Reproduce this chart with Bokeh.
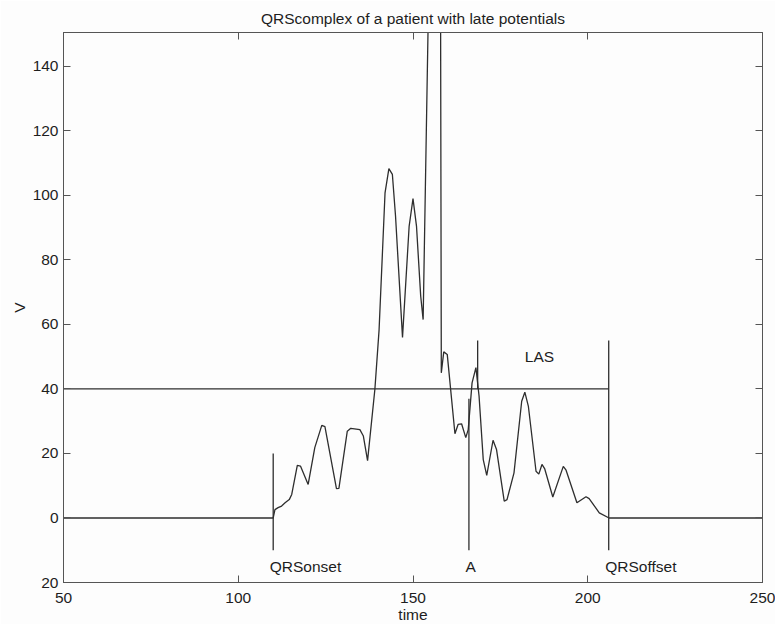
from bokeh.plotting import figure
from bokeh.models import Range1d, LinearAxis, FixedTicker, Label
from bokeh.embed import file_html
from bokeh.resources import INLINE

# ECG QRS complex signal (time, V)
time = [50, 110, 110.5, 111.4, 112.4, 113.4, 114.6, 115.3, 116.9, 117.8, 120.0,
        121.9, 123.9, 124.8, 128.1, 128.8, 131.2, 132.2, 134.8, 135.8, 137.0,
        139.1, 140.3, 142.0, 143.1, 144.1, 145.0, 147.0, 148.9, 150.0, 151.0,
        152.2, 152.9, 156.0, 157.7, 158.1, 158.8, 159.8, 162.0, 162.9, 163.9,
        165.1, 165.8, 166.9, 168.0, 168.9, 170.1, 171.1, 172.9, 173.9, 176.1,
        176.9, 178.9, 181.1, 182.0, 183.0, 185.2, 186.0, 186.9, 187.7, 190.0,
        193.0, 193.8, 196.9, 199.5, 200.4, 203.3, 206.1, 250]
volt = [0, 0, 2.6, 3.2, 3.7, 4.7, 5.7, 7.3, 16.3, 16.1, 10.4,
        21.8, 28.7, 28.3, 9.1, 9.2, 26.9, 27.8, 27.4, 25.4, 17.8,
        40.0, 58.4, 100.8, 108.3, 106.5, 93.6, 56.0, 90.5, 99.0, 90.5,
        68.8, 61.5, 260.0, 260.0, 45.0, 51.5, 50.7, 26.1, 29.0, 29.2,
        24.9, 27.4, 41.9, 46.6, 37.8, 18.1, 13.2, 24.1, 21.2, 5.2,
        5.7, 14.0, 36.2, 39.0, 34.7, 14.5, 13.6, 16.6, 15.2, 6.5,
        16.0, 14.8, 4.7, 6.6, 6.0, 1.6, 0.0, 0]

# markers
qrs_onset = 110
point_a = 166
las_start = 168.5
qrs_offset = 206
las_level = 40
marker_low = -10
onset_top = 20
a_top = 37
las_top = 55

x_ticks = [50, 100, 150, 200, 250]
y_ticks = [-20, 0, 20, 40, 60, 80, 100, 120, 140]

FONT = "Liberation Sans"
FS = "15.5px"
LINE = "#2e2e2e"
AX = "#555555"
TXT = "#1e1e1e"

p = figure(frame_width=699, frame_height=550,
           x_range=Range1d(50, 250), y_range=Range1d(-20, 150.5),
           output_backend="svg", toolbar_location=None,
           min_border_left=63, min_border_right=13,
           min_border_top=32, min_border_bottom=40,
           title="QRScomplex of a patient with late potentials",
           background_fill_color="#fdfdfd", border_fill_color="#fdfdfd")

p.xgrid.visible = False
p.ygrid.visible = False
p.outline_line_color = AX

p.title.align = "center"
p.title.text_font = FONT
p.title.text_font_size = FS
p.title.text_font_style = "normal"
p.title.text_color = TXT
p.title.standoff = 12

def style_axis(ax, ticks, labels=True):
    ax.ticker = FixedTicker(ticks=ticks)
    ax.major_tick_in = 7
    ax.major_tick_out = 0
    ax.minor_tick_in = 0
    ax.minor_tick_out = 0
    ax.axis_line_color = AX
    ax.major_tick_line_color = AX
    ax.major_label_text_font = FONT
    ax.major_label_text_font_size = FS
    ax.major_label_text_color = TXT
    ax.axis_label_text_font = FONT
    ax.axis_label_text_font_size = FS
    ax.axis_label_text_font_style = "normal"
    ax.axis_label_text_color = TXT
    if not labels:
        ax.major_label_text_font_size = "1px"
        ax.major_label_text_color = None
        ax.major_label_standoff = 0

style_axis(p.xaxis[0], x_ticks)
style_axis(p.yaxis[0], y_ticks)
p.xaxis.axis_label = "time"
p.yaxis.axis_label = "V"
p.xaxis.major_label_standoff = 10
p.xaxis.axis_label_standoff = 0
p.yaxis.major_label_standoff = 5
p.yaxis.axis_label_standoff = 2
p.yaxis.major_label_overrides = {-20: "20"}

top_ax = LinearAxis()
style_axis(top_ax, x_ticks, labels=False)
p.add_layout(top_ax, "above")
right_ax = LinearAxis()
style_axis(right_ax, y_ticks, labels=False)
p.add_layout(right_ax, "right")

# signal
p.line(time, volt, line_color=LINE, line_width=1.3)

# markers
p.line([50, qrs_offset], [las_level, las_level], line_color=LINE, line_width=1.3)
p.line([qrs_onset, qrs_onset], [marker_low, onset_top], line_color=LINE, line_width=1.3)
p.line([point_a, point_a], [marker_low, a_top], line_color=LINE, line_width=1.3)
p.line([las_start, las_start], [las_level, las_top], line_color=LINE, line_width=1.3)
p.line([qrs_offset, qrs_offset], [marker_low, las_top], line_color=LINE, line_width=1.3)

for tx, ty, s in [(qrs_onset - 1, -15, "QRSonset"), (point_a - 1, -15, "A"),
                  (qrs_offset - 1, -15, "QRSoffset"), (182, 50, "LAS")]:
    p.add_layout(Label(x=tx, y=ty, text=s, text_font=FONT, text_font_size=FS,
                       text_color=TXT, text_baseline="middle", text_align="left"))

open("out.html", "w").write(file_html(p, INLINE))
